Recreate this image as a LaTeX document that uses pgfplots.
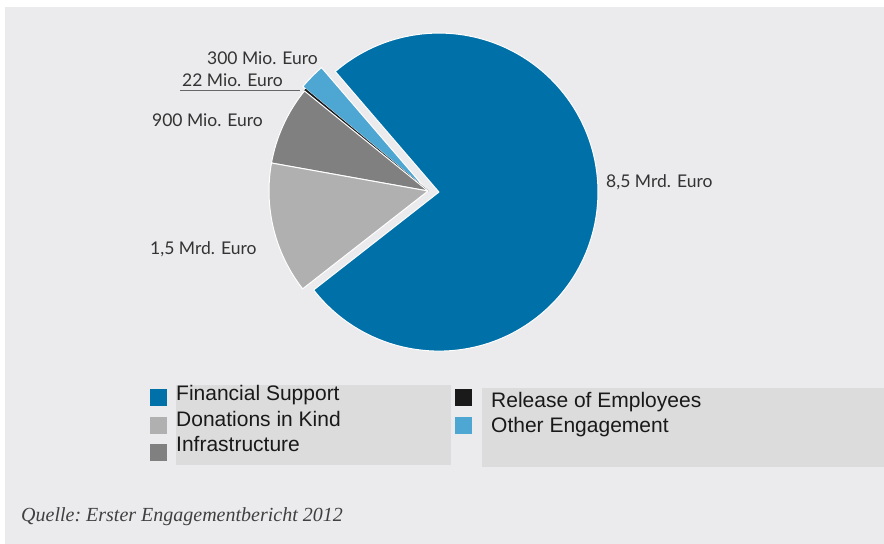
\documentclass[border=0pt]{standalone}
\usepackage{pgfplots}
\usepackage{pgfplotstable}
\usepackage{fontspec}
\pgfplotsset{compat=1.18}
\setmainfont{Liberation Sans}
\newfontfamily\labelfont{Lato}
\newfontfamily\srcfont{Liberation Serif}

\definecolor{panel}{HTML}{EBEBED}
\definecolor{legbox}{HTML}{DCDCDC}
\definecolor{cFin}{HTML}{0070A8}
\definecolor{cOth}{HTML}{4EA6D2}
\definecolor{cRel}{HTML}{1A1A1A}
\definecolor{cInf}{HTML}{808080}
\definecolor{cDon}{HTML}{B0B0B0}

% values in Mio. Euro, counter-clockwise from the start angle
\pgfplotstableread{
name      value colour explode border
Financial 8500  cFin   11      white
Other     300   cOth   4       white
Release   22    cRel   0       cRel
Infra     900   cInf   0       white
Donations 1500  cDon   0       white
}\piedata

\begin{document}
\begin{tikzpicture}
\begin{axis}[
    hide axis,
    scale only axis,
    at={(0,0)}, anchor=south west,
    width=884bp, height=544bp,
    xmin=0, xmax=884, ymin=0, ymax=544,
    clip=false,
]
% background panel
\fill[panel] (axis cs:5,0) rectangle (axis cs:884,537);

% sum of values
\def\total{0}
\pgfplotsforeachungrouped \i in {0,...,4}{%
  \pgfplotstablegetelem{\i}{value}\of\piedata
  \pgfmathsetmacro\total{\total+\pgfplotsretval}%
}

% pie slices
\def\startang{-142}
\pgfplotsforeachungrouped \i in {0,...,4}{%
  \pgfplotstablegetelem{\i}{value}\of\piedata \let\val\pgfplotsretval
  \pgfplotstablegetelem{\i}{colour}\of\piedata \let\col\pgfplotsretval
  \pgfplotstablegetelem{\i}{explode}\of\piedata \let\ex\pgfplotsretval
  \pgfplotstablegetelem{\i}{border}\of\piedata \let\brd\pgfplotsretval
  \pgfmathsetmacro\endang{\startang+\val/\total*360}%
  \pgfmathsetmacro\midang{(\startang+\endang)/2}%
  \pgfmathsetmacro\cx{428+\ex*cos(\midang)}%
  \pgfmathsetmacro\cy{353+\ex*sin(\midang)}%
  \edef\slice{\noexpand\fill[\col,draw=\brd,line width=1bp,line join=round]
    (axis cs:\cx,\cy) -- ++(\startang:159bp)
    arc[start angle=\startang,end angle=\endang,radius=159bp] -- cycle;}%
  \slice
  \let\startang\endang
}

% value labels
\begin{scope}[every node/.style={font=\labelfont\fontsize{17.5bp}{20bp}\selectfont, text=black!80, inner sep=0pt}]
\node[anchor=base east] at (axis cs:318,479) {300 Mio. Euro};
\node[anchor=base west] at (axis cs:182,457) {22 Mio. Euro};
\node[anchor=base east] at (axis cs:263,417) {900 Mio. Euro};
\node[anchor=base west] at (axis cs:150,289) {1,5 Mrd. Euro};
\node[anchor=base west] at (axis cs:606,356) {8,5 Mrd. Euro};
\end{scope}
\draw[black!60, line width=1bp] (axis cs:180,453) -- (axis cs:300,453);

% legend
\fill[legbox] (axis cs:176,79) rectangle (axis cs:451,159);
\fill[legbox] (axis cs:482,77) rectangle (axis cs:884,156);
\fill[cFin] (axis cs:150,138) rectangle (axis cs:167,155);
\fill[cDon] (axis cs:150,110) rectangle (axis cs:167,127);
\fill[cInf] (axis cs:150,83) rectangle (axis cs:167,100);
\fill[cRel] (axis cs:455,138) rectangle (axis cs:472,155);
\fill[cOth] (axis cs:455,110) rectangle (axis cs:472,127);
\begin{scope}[every node/.style={font=\fontsize{21bp}{24bp}\selectfont, text=black!90, inner sep=0pt, anchor=base west}]
\node at (axis cs:176,143) {Financial Support};
\node at (axis cs:176,117) {Donations in Kind};
\node at (axis cs:176,92) {Infrastructure};
\node at (axis cs:491,136) {Release of Employees};
\node at (axis cs:491,111) {Other Engagement};
\end{scope}

% source
\node[anchor=base west, inner sep=0pt, text=black!75, font=\srcfont\itshape\fontsize{20bp}{24bp}\selectfont]
  at (axis cs:21,23) {\frenchspacing Quelle: Erster Engagementbericht 2012};
\end{axis}
\pgfresetboundingbox
\useasboundingbox (0,0) rectangle (884bp,544bp);
\end{tikzpicture}
\end{document}
